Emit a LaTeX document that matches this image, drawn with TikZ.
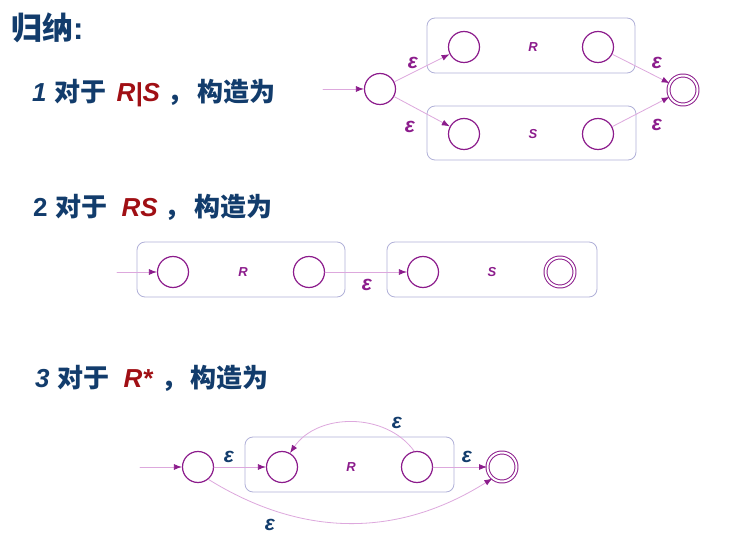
\documentclass[tikz,border=0pt]{standalone}
\usepackage{fontspec}
\setmainfont{Liberation Sans}
\newfontfamily\cjk{Noto Sans CJK SC}
\usetikzlibrary{arrows.meta}
\definecolor{txtblue}{HTML}{123C6C}
\definecolor{txtred}{HTML}{A00F14}
\definecolor{statepurple}{HTML}{8C1C8C}
\definecolor{edgepink}{HTML}{DDA8DD}
\definecolor{boxblue}{HTML}{B0B0D8}
\newcommand{\cn}[1]{{\cjk\bfseries #1}}
\newcommand{\rx}[1]{\textcolor{txtred}{\textit{#1}}}
\begin{document}
\begin{tikzpicture}[x=1pt, y=-1pt, line join=round, line cap=round,
    state/.style={circle, draw=statepurple, line width=1.2pt, minimum size=31pt, inner sep=0pt},
    accept/.style={circle, draw=statepurple, line width=1pt, double=white, double distance=2pt, minimum size=29pt, inner sep=0pt},
    box/.style={draw=boxblue, line width=0.8pt, rounded corners=8pt},
    edge/.style={draw=edgepink, line width=0.8pt, -{Latex[length=8pt, width=6pt, color=statepurple]}},
    eps/.style={font=\bfseries\itshape\fontsize{21}{21}\selectfont, text=statepurple},
    lab/.style={font=\bfseries\itshape\fontsize{13}{13}\selectfont, text=statepurple},
    head/.style={anchor=west, inner sep=0pt, text=txtblue, font=\bfseries\fontsize{26}{26}\selectfont}]
  \useasboundingbox[fill=white] (0,0) rectangle (739,545);

  % headings
  \node[head, font=\bfseries\fontsize{31}{31}\selectfont] (title) at (11,28) {\cn{归纳}:};
  \node[head] (h1) at (32,93) {\textit{1}\hspace{8pt}\cn{对于}\hspace{10pt}\rx{R|S}\hspace{7pt}\cn{，}\hspace{4pt}\cn{构造为}};
  \node[head] (h2) at (33,207) {2\hspace{8pt}\cn{对于}\hspace{14pt}\rx{RS}\hspace{7pt}\cn{，}\hspace{4pt}\cn{构造为}};
  \node[head] (h3) at (35,378) {\textit{3}\hspace{8pt}\cn{对于}\hspace{14pt}\rx{R*}\hspace{8pt}\cn{，}\hspace{3pt}\cn{构造为}};

  % 1: R|S
  \draw[box] (427,18) rectangle (635,73);
  \draw[box] (427,106) rectangle (636,160);
  \coordinate (s1) at (323,89);
  \node[state] (q0) at (380,89) {};
  \node[state] (q1) at (464,47) {};
  \node[state] (q2) at (598,47) {};
  \node[state] (q3) at (464,134) {};
  \node[state] (q4) at (598,134) {};
  \node[accept] (f1) at (683,90) {};
  \node[lab] (r1) at (533,47) {R};
  \node[lab] (s1l) at (533,134) {S};
  \draw[edge] (s1) -- (q0);
  \draw[edge] (q0) -- (q1);
  \draw[edge] (q0) -- (q3);
  \draw[edge] (q2) -- (f1);
  \draw[edge] (q4) -- (f1);
  \node[eps] (e1) at (413,63) {ε};
  \node[eps] (e2) at (410,127) {ε};
  \node[eps] (e3) at (657,63) {ε};
  \node[eps] (e4) at (657,125) {ε};

  % 2: RS
  \draw[box] (137,242) rectangle (345,297);
  \draw[box] (387,242) rectangle (597,297);
  \coordinate (s2) at (117,272);
  \node[state] (p1) at (173,272) {};
  \node[state] (p2) at (309,272) {};
  \node[state] (p3) at (423,272) {};
  \node[accept] (p4) at (560,272) {};
  \node[lab] (r2) at (243,272) {R};
  \node[lab] (s2l) at (492,272) {S};
  \draw[edge] (s2) -- (p1);
  \draw[edge] (p2) -- (p3);
  \node[eps] (e5) at (367,285) {ε};

  % 3: R*
  \draw[box] (245,437) rectangle (454,492);
  \coordinate (s3) at (140,467);
  \node[state] (a) at (198,467) {};
  \node[state] (b) at (282,467) {};
  \node[state] (c) at (417,467) {};
  \node[accept] (d) at (502,467) {};
  \node[lab] (r3) at (351,467) {R};
  \draw[edge] (s3) -- (a);
  \draw[edge] (a) -- (b);
  \draw[edge] (c) -- (d);
  \draw[edge] (c.100) to[bend right=55] (b.60);
  \draw[edge] (a.-50) to[bend right=32] (d.-130);
  \node[eps, text=txtblue] (e6) at (229,457) {ε};
  \node[eps, text=txtblue] (e7) at (397,423) {ε};
  \node[eps, text=txtblue] (e8) at (467,457) {ε};
  \node[eps, text=txtblue] (e9) at (270,525) {ε};
\end{tikzpicture}
\end{document}
